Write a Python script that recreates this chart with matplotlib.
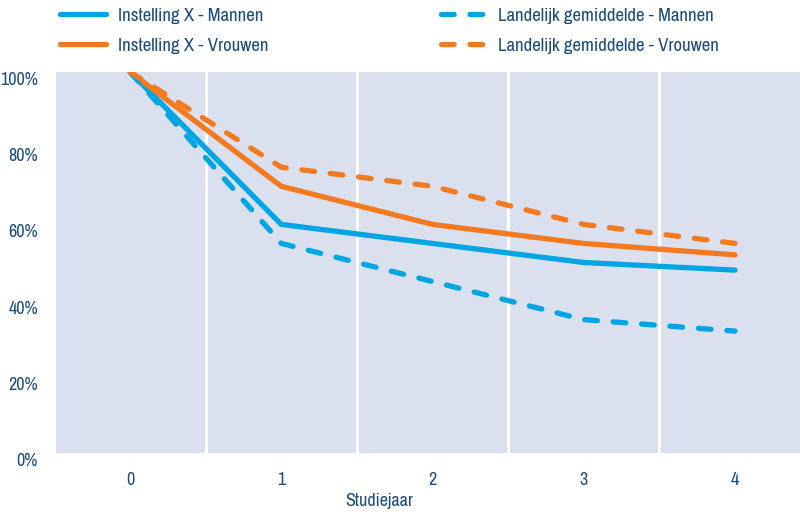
import matplotlib
matplotlib.use("Agg")
import matplotlib.pyplot as plt
from matplotlib import font_manager

# Retention per study year (percent)
years = [0, 1, 2, 3, 4]
inst_mannen = [100, 60, 55, 50, 48]
inst_vrouwen = [100, 70, 60, 55, 52]
land_mannen = [100, 55, 45, 35, 32]
land_vrouwen = [100, 75, 70, 60, 55]
y_ticks = [0, 20, 40, 60, 80, 100]
y_tick_labels = ["0%", "20%", "40%", "60%", "80%", "100%"]

# look for a narrow family first, otherwise Lato
narrow = [f.name for f in font_manager.fontManager.ttflist
          if "Condensed" in f.name or "Narrow" in f.name]
family = narrow[0] if narrow else "Lato"
plt.rcParams['font.family'] = [family, "DejaVu Sans"]

BLUE = "#00a5e3"
ORANGE = "#f47a20"
BG = "#dae0ee"
TEXT = "#1b4c7c"
LW = 3.8
DASH = (2.4, 3.0)
FS_TICK = 13 if narrow else 11
FS_LEG = 13.5 if narrow else 12

fig = plt.figure(figsize=(8, 5.18), dpi=100)
ax = fig.add_axes([0.07, 0.1255, 0.93, 0.7355])
ax.set_facecolor(BG)

for xs in [0.5, 1.5, 2.5, 3.5]:
    ax.axvline(xs, color="white", lw=2.2, zorder=1)

common = dict(lw=LW, solid_capstyle='round', dash_capstyle='round', zorder=3)
l1, = ax.plot(years, inst_mannen, color=BLUE, **common)
l2, = ax.plot(years, inst_vrouwen, color=ORANGE, **common)
l3, = ax.plot(years, land_mannen, color=BLUE, dashes=DASH, **common)
l4, = ax.plot(years, land_vrouwen, color=ORANGE, dashes=DASH, **common)

ax.set_xlim(-0.49, 4.43)
ax.set_ylim(0, 100)
ax.set_xticks(years)
ax.set_xticklabels([str(y) for y in years])
ax.set_yticks(y_ticks)
ax.set_yticklabels(y_tick_labels)
ax.tick_params(length=0, labelsize=FS_TICK, colors=TEXT)
ax.tick_params(axis='x', pad=14)
ax.tick_params(axis='y', pad=13)
for lab in ax.get_yticklabels():
    lab.set_verticalalignment('top')
for s in ax.spines.values():
    s.set_visible(False)
ax.set_xlabel("Studiejaar", fontsize=FS_TICK, color=TEXT)
ax.xaxis.set_label_coords(0.434, -0.105)

leg_kw = dict(frameon=False, fontsize=FS_LEG, labelcolor=TEXT, handletextpad=0.6,
              labelspacing=0.75, borderaxespad=0)
hl = 46 / (FS_LEG * 100 / 72)
leg1 = fig.legend([l1, l2], ["Instelling X - Mannen", "Instelling X - Vrouwen"],
                  loc='upper left', bbox_to_anchor=(0.066, 1.0),
                  handlelength=hl, **leg_kw)
leg2 = fig.legend([l3, l4], ["Landelijk gemiddelde - Mannen", "Landelijk gemiddelde - Vrouwen"],
                  loc='upper left', bbox_to_anchor=(0.542, 1.0),
                  handlelength=hl, **leg_kw)

fig.savefig("out.png", dpi=100)
